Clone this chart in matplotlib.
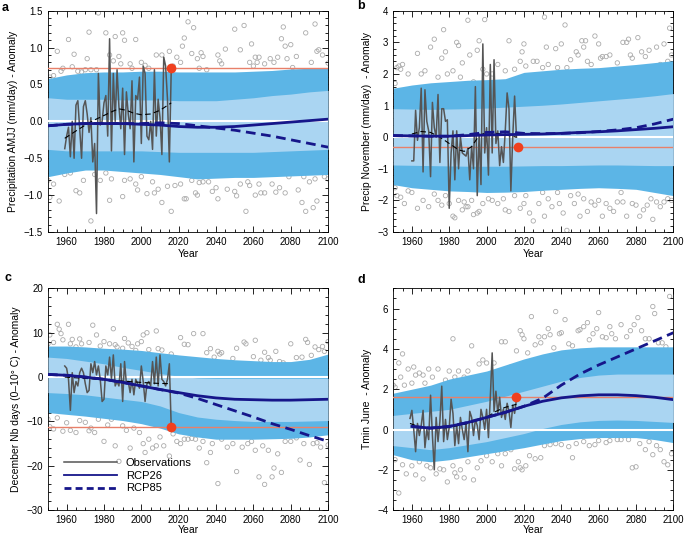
import matplotlib
matplotlib.use("Agg")
import matplotlib.pyplot as plt
from matplotlib.ticker import MultipleLocator

plt.rcParams['font.family'] = ['Liberation Sans', 'DejaVu Sans']
plt.rcParams['font.size'] = 7

DARK = '#5cb5e6'
LIGHT = '#aad5f2'
NAVY = '#16168a'
OBS = '#555555'
RED = '#f0401e'
REDLINE = '#e8806a'

obs_years = list(range(1959, 2017))

# ---------------- panel a : Precipitation AMJJ
a_obs = [-0.37, -0.2, -0.08, -0.48, 0.0, -0.5, 0.22, 0.28, -0.1, -0.5, 0.2, 0.28, 0.1, -0.15,
         0.05, -0.55, -0.3, -1.25, 0.65, -0.05, 0.0, 0.25, 0.35, -0.2, 1.12, -0.4, 0.65, 0.0,
         0.7, 0.2, -0.1, 0.45, -0.45, 0.4, 0.1, -0.1, 0.55, -0.55, 0.35, 0.3, 0.6, -0.3, 0.75,
         0.65, -0.2, -0.25, 0.0, -0.38, 0.7, -0.2, 0.3, 0.05, -0.45, 0.87, 0.75, 0.3, -0.55, 0.7]
a_fit_yr = [1959, 1965, 1970, 1975, 1980, 1985, 1988, 1992, 1996, 2000, 2005, 2010, 2016]
a_fit = [-0.23, -0.13, -0.05, 0.02, 0.08, 0.14, 0.17, 0.15, 0.11, 0.09, 0.1, 0.15, 0.25]
band_yr = [1950, 1960, 1970, 1980, 1990, 2000, 2010, 2020, 2030, 2040, 2050, 2060, 2070, 2080, 2090, 2100]
a_out_hi = [0.58, 0.63, 0.66, 0.67, 0.67, 0.68, 0.68, 0.67, 0.67, 0.67, 0.67, 0.68, 0.69, 0.71, 0.72, 0.72]
a_in_hi = [0.32, 0.30, 0.30, 0.30, 0.29, 0.29, 0.29, 0.28, 0.28, 0.28, 0.30, 0.32, 0.35, 0.37, 0.40, 0.42]
a_in_lo = [-0.38, -0.40, -0.40, -0.40, -0.40, -0.40, -0.41, -0.42, -0.42, -0.42, -0.42, -0.42, -0.41, -0.40, -0.39, -0.38]
a_out_lo = [-0.75, -0.70, -0.66, -0.66, -0.68, -0.70, -0.72, -0.75, -0.78, -0.77, -0.76, -0.76, -0.75, -0.74, -0.73, -0.72]
a_rcp26 = [-0.06, -0.04, -0.03, -0.03, -0.03, -0.04, -0.05, -0.07, -0.08, -0.08, -0.07, -0.05, -0.03, -0.01, 0.01, 0.03]
a_rcp85 = [-0.06, -0.04, -0.03, -0.03, -0.03, -0.03, -0.02, -0.03, -0.06, -0.09, -0.12, -0.16, -0.2, -0.25, -0.3, -0.35]
a_last = 0.73
a_sc_yr = [1951, 1953, 1955, 1957, 1958, 1961, 1963, 1964, 1966, 1968, 1970, 1971, 1972, 1973, 1976,
           1977, 1981, 1983, 1985, 1986, 1988, 1989, 1990, 1991, 1994, 1995, 1997, 2000, 2002, 2004,
           2008, 2011, 2015, 2017, 2019, 2021, 2022, 2023, 2025, 2027, 2028, 2030, 2031, 2032, 2033,
           2035, 2041, 2042, 2043, 2045, 2050, 2053, 2055, 2058, 2059, 2060, 2061, 2062, 2063, 2066,
           2069, 2071, 2073, 2075, 2076, 2077, 2078, 2080, 2081, 2083, 2088, 2091, 2093, 2094, 2095,
           2097, 2100,
           1950, 1951, 1953, 1956, 1959, 1962, 1965, 1967, 1969, 1973, 1975, 1978, 1981, 1983, 1984,
           1990, 1991, 1994, 1997, 1998, 2000, 2003, 2006, 2007, 2009, 2011, 2014, 2016, 2018, 2021,
           2023, 2024, 2027, 2029, 2030, 2031, 2033, 2036, 2038, 2040, 2041, 2046, 2050, 2051, 2053,
           2056, 2057, 2058, 2061, 2063, 2064, 2066, 2070, 2072, 2074, 2077, 2079, 2084, 2086, 2087,
           2088, 2090, 2092, 2093, 2094, 2098, 2100]
a_sc = [0.6, 0.62, 0.95, 0.68, 0.72, 1.11, 0.74, 0.91, 0.68, 0.67, 0.7, 0.85, 1.21, 0.7, 0.7,
        1.47, 1.2, 0.9, 0.82, 1.15, 0.88, 0.78, 1.2, 1.1, 0.78, 0.72, 1.11, 0.8, 0.76, 0.72,
        0.9, 0.9, 0.95, 0.75, 0.87, 0.8, 1.02, 1.13, 1.35, 0.92, 1.27, 0.85, 0.72, 0.93, 0.88,
        0.7, 0.9, 0.82, 0.78, 0.98, 1.25, 0.97, 1.3, 0.8, 1.05, 0.75, 0.87, 0.8, 0.87, 0.78,
        0.85, 0.8, 0.87, 1.12, 1.28, 1.02, 0.85, 1.04, 0.73, 0.88, 1.2, 0.8, 1.32, 0.95, 0.97,
        0.9, 0.79,
        -0.8, -1.03, -0.85, -1.08, -0.72, -0.7, -0.94, -0.97, -0.8, -1.35, -0.72, -0.8, -0.7, -1.07, -0.78,
        -1.02, -0.8, -0.78, -0.85, -0.93, -0.75, -0.98, -0.82, -0.97, -0.92, -1.1, -0.88, -1.22, -0.87, -0.85,
        -1.05, -1.05, -0.8, -0.97, -1.0, -0.83, -0.82, -0.82, -0.95, -0.9, -1.05, -0.92, -0.95, -1.01, -0.85,
        -1.22, -0.82, -0.87, -1.0, -0.85, -0.97, -0.97, -0.85, -0.96, -0.9, -0.97, -0.75, -0.93, -1.1, -0.75,
        -1.22, -0.82, -1.17, -0.78, -1.08, -0.75, -0.78]

# ---------------- panel b : Precip November
b_obs = [-0.75, -0.75, 0.85, -0.1, 0.3, 1.55, -1.1, 1.5, 0.5, 0.2, -1.25, 1.1, 0.3, 0.0, 1.35,
         -0.8, 0.9, 0.9, 0.5, 0.55, -2.25, -0.5, 0.2, -1.35, 0.2, -1.0, 0.0, -0.5, -0.55, -0.6,
         -0.35, -1.35, -0.3, -1.0, 1.6, -1.85, 0.1, -1.5, 2.95, -0.5, 0.3, -1.2, 2.3, -0.5, 2.45,
         -0.2, 0.2, -0.9, -0.3, -0.8, 0.2, 1.4, 0.9, -1.7, 0.0, 1.3, 0.0]
b_obs_years = list(range(1960, 2017))
b_fit_yr = [1960, 1965, 1970, 1975, 1980, 1985, 1988, 1992, 1996, 2000, 2008, 2016]
b_fit = [0.1, 0.18, 0.15, 0.0, -0.2, -0.4, -0.45, -0.3, 0.05, 0.15, 0.1, 0.0]
b_out_hi = [1.55, 1.65, 1.72, 1.76, 1.8, 1.82, 1.85, 2.05, 2.1, 2.15, 2.18, 2.2, 2.25, 2.3, 2.36, 2.42]
b_in_hi = [0.9, 0.89, 0.88, 0.89, 0.9, 0.92, 0.95, 0.98, 1.01, 1.05, 1.1, 1.15, 1.2, 1.25, 1.31, 1.38]
b_in_lo = [-0.88, -0.89, -0.9, -0.91, -0.92, -0.92, -0.92, -0.91, -0.9, -0.9, -0.89, -0.88, -0.88, -0.89, -0.9, -0.9]
b_out_lo = [-1.5, -1.6, -1.65, -1.7, -1.72, -1.75, -1.74, -1.72, -1.68, -1.65, -1.62, -1.6, -1.62, -1.65, -1.75, -1.85]
b_rcp26 = [0.05, 0.04, 0.03, 0.03, 0.05, 0.07, 0.08, 0.09, 0.1, 0.12, 0.15, 0.17, 0.2, 0.24, 0.28, 0.33]
b_rcp85 = [0.05, 0.04, 0.03, 0.03, 0.08, 0.15, 0.17, 0.12, 0.11, 0.12, 0.14, 0.18, 0.23, 0.3, 0.42, 0.57]
b_last = -0.3
b_sc_yr = [1951, 1952, 1953, 1954, 1955, 1958, 1963, 1965, 1967, 1970, 1972, 1974, 1976, 1977, 1978,
           1979, 1982, 1984, 1985, 1986, 1987, 1990, 1991, 1993, 1995, 1996, 1998, 1999, 2000, 2003,
           2006, 2010, 2012, 2015, 2018, 2019, 2020, 2021, 2025, 2027, 2030, 2031, 2032, 2033, 2037,
           2038, 2040, 2042, 2043, 2045, 2048, 2049, 2051, 2052, 2053, 2054, 2056, 2058, 2060, 2061,
           2062, 2064, 2066, 2070, 2073, 2075, 2076, 2077, 2078, 2081, 2083, 2085, 2087, 2091, 2093,
           2095, 2097, 2098, 2099,
           1951, 1952, 1954, 1956, 1958, 1960, 1963, 1966, 1969, 1972, 1974, 1976, 1978, 1980, 1982,
           1983, 1985, 1987, 1988, 1989, 1990, 1992, 1993, 1995, 1996, 1998, 2001, 2003, 2006, 2009,
           2010, 2012, 2015, 2018, 2020, 2021, 2023, 2025, 2028, 2030, 2031, 2033, 2035, 2038, 2039,
           2041, 2043, 2045, 2047, 2049, 2050, 2052, 2054, 2056, 2058, 2060, 2062, 2064, 2066, 2068,
           2070, 2072, 2073, 2075, 2078, 2080, 2082, 2084, 2086, 2088, 2089, 2091, 2093, 2095, 2097,
           2099]
b_sc = [1.7, 2.2, 2.25, 2.15, 2.3, 2.0, 2.65, 2.0, 2.1, 2.85, 3.1, 1.9, 2.5, 3.4, 2.7,
        2.0, 2.1, 3.0, 2.9, 1.9, 2.35, 3.7, 2.6, 1.75, 2.75, 3.05, 2.15, 3.72, 2.0, 2.0,
        2.3, 2.1, 3.05, 2.15, 2.4, 2.7, 2.95, 2.25, 2.4, 2.4, 2.2, 3.8, 2.85, 2.3, 2.8,
        2.2, 2.95, 3.55, 2.2, 2.45, 2.7, 2.6, 3.05, 2.85, 3.05, 2.4, 2.3, 3.2, 2.95, 2.5,
        2.55, 2.55, 2.6, 2.35, 3.0, 3.0, 3.1, 2.6, 2.5, 3.15, 2.7, 2.55, 2.75, 2.85, 2.3,
        2.95, 2.4, 3.45, 2.6,
        -1.6, -1.85, -1.9, -2.1, -1.7, -1.75, -2.25, -2.0, -2.2, -1.8, -2.0, -2.15, -1.85, -2.1, -2.5,
        -2.55, -2.0, -2.3, -2.05, -2.2, -2.2, -2.0, -2.45, -2.4, -2.35, -2.1, -1.95, -2.0, -2.1, -1.95,
        -2.3, -2.35, -1.85, -2.25, -2.1, -1.85, -2.4, -2.65, -2.1, -1.75, -2.5, -1.95, -2.2, -1.75, -2.1,
        -2.4, -2.95, -1.85, -2.1, -1.8, -2.5, -1.95, -2.35, -2.05, -2.15, -2.0, -2.5, -2.1, -2.25, -2.35,
        -2.05, -1.75, -2.05, -2.5, -2.1, -2.15, -2.5, -2.3, -2.15, -1.95, -2.6, -2.05, -2.2, -2.05, -1.95,
        -2.0]

# ---------------- panel c : December Nb days (0-10 C)
c_obs = [2.5, 2.0, -0.5, -7.5, 1.0, -3.5, -1.0, -2.0, 1.0, 2.0, 1.0, -1.5, -3.5, -3.0, 3.0,
         1.0, 3.5, 0.5, 2.5, -0.5, -5.5, -5.0, 2.5, 0.5, 4.5, -0.5, 5.0, -2.0, -1.0, -2.0,
         3.0, -5.5, 3.5, -1.5, -1.0, -3.5, -0.5, -4.0, -0.5, -1.5, -2.5, 2.5, -1.0, -5.5, -1.5,
         -1.0, -2.0, 3.5, -1.5, 4.5, -2.0, 5.0, -0.5, -1.0, -2.0, -0.5, 3.0, -11.3]
c_fit_yr = [1959, 1970, 1980, 1990, 2000, 2008, 2016]
c_fit = [0.0, -0.3, -0.6, -0.9, -1.2, -1.4, -1.5]
c_out_hi = [7.0, 7.0, 6.8, 6.5, 6.3, 6.0, 5.5, 5.0, 4.6, 4.2, 3.9, 3.7, 3.5, 3.5, 4.0, 5.2]
c_in_hi = [4.5, 4.2, 3.6, 3.0, 2.2, 1.5, 0.8, 0.2, -0.2, -0.3, -0.3, -0.3, -0.3, -0.3, -0.3, -0.3]
c_in_lo = [-3.5, -3.7, -4.0, -4.5, -5.0, -5.5, -6.5, -8.0, -9.0, -9.5, -9.8, -10.0, -10.0, -10.0, -9.9, -9.8]
c_out_lo = [-8.0, -8.4, -8.8, -9.3, -9.8, -10.5, -11.5, -12.8, -13.5, -14.0, -14.0, -14.0, -13.9, -13.8, -13.5, -13.0]
c_rcp26 = [0.6, 0.4, 0.0, -0.5, -1.2, -2.0, -2.8, -3.5, -4.2, -4.7, -5.0, -5.1, -5.2, -5.2, -5.1, -5.0]
c_rcp85 = [0.6, 0.4, 0.0, -0.5, -1.2, -2.0, -2.8, -3.6, -4.8, -6.2, -7.6, -9.0, -10.5, -11.8, -13.2, -14.5]
c_last = -11.3
c_sc_yr = [1950, 1951, 1953, 1955, 1956, 1957, 1958, 1961, 1962, 1963, 1965, 1967, 1968, 1972, 1974,
           1976, 1978, 1980, 1983, 1985, 1986, 1987, 1990, 1991, 1993, 1995, 1997, 1998, 2000, 2001,
           2003, 2004, 2008, 2009, 2011, 2016, 2021, 2023, 2025, 2028, 2033, 2035, 2037, 2039, 2041,
           2042, 2043, 2049, 2051, 2055, 2056, 2060, 2061, 2064, 2066, 2068, 2069, 2072, 2074, 2076,
           2080, 2083, 2086, 2088, 2089, 2091, 2093, 2095, 2097, 2098, 2100,
           1950, 1951, 1953, 1955, 1958, 1960, 1962, 1965, 1967, 1970, 1972, 1973, 1975, 1977, 1980,
           1982, 1984, 1986, 1988, 1990, 1992, 1994, 1996, 1999, 2001, 2002, 2004, 2006, 2008, 2010,
           2012, 2015, 2017, 2019, 2021, 2023, 2025, 2027, 2029, 2031, 2033, 2035, 2037, 2038, 2041,
           2043, 2046, 2049, 2051, 2054, 2057, 2059, 2061, 2063, 2065, 2066, 2068, 2070, 2071, 2073,
           2075, 2077, 2080, 2083, 2085, 2087, 2090, 2092, 2094, 2096, 2098, 2100]
c_sc = [7.5, 9.5, 7.8, 11.9, 10.8, 9.8, 8.4, 11.9, 7.5, 8.5, 6.8, 8.6, 7.5, 7.8, 11.7,
        9.5, 7.0, 8.0, 7.5, 10.9, 7.3, 6.8, 6.5, 8.7, 7.7, 6.9, 6.0, 7.5, 8.0, 9.5,
        10.0, 6.2, 10.4, 6.4, 6.1, 5.2, 8.9, 7.4, 7.3, 9.8, 9.8, 5.5, 6.4, 4.5, 5.8,
        5.2, 5.5, 4.2, 6.5, 7.9, 7.5, 4.6, 8.3, 3.8, 5.6, 4.4, 3.8, 5.8, 3.5, 3.2,
        7.5, 4.4, 4.5, 8.5, 7.8, 4.9, 6.8, 6.2, 6.9, 5.8, 8.0,
        -9.5, -11.2, -11.7, -9.2, -12.2, -10.3, -12.0, -12.5, -9.8, -10.2, -12.1, -11.5, -12.5, -9.5, -14.5,
        -10.8, -9.5, -15.5, -19.0, -11.0, -12.0, -16.0, -11.5, -12.5, -15.0, -17.0, -14.0, -16.0, -15.5, -13.5,
        -15.5, -17.8, -12.8, -14.5, -15.0, -14.0, -14.0, -13.8, -14.0, -16.0, -14.5, -19.3, -17.0, -15.0, -24.0,
        -14.0, -15.8, -15.0, -21.3, -15.8, -15.0, -14.5, -16.5, -22.5, -15.5, -24.2, -16.5, -22.5, -20.5, -17.3,
        -21.5, -14.5, -14.5, -13.7, -18.7, -15.0, -19.7, -15.0, -14.8, -15.8, -23.8, -15.3]

# ---------------- panel d : Tmin June
d_obs = [0.55, 0.95, 0.0, -1.1, 0.3, -0.3, 0.2, 0.95, -0.9, 0.0, -0.5, 1.7, -0.3, -2.0, 0.6,
         -0.6, 0.4, 2.15, -0.6, 0.5, -0.5, 0.1, 1.5, 0.8, -0.8, 0.2, -0.7, 0.6, 0.0, -0.5,
         0.3, -1.1, 0.9, 0.6, -0.3, 0.5, 0.2, -0.5, 1.0, 0.6, 0.0, 1.0, -0.4, 1.6, 3.8,
         0.9, 1.9, 0.8, 1.6, 0.6, 1.0, 0.5, 1.3, 0.9, 0.1, 1.2, 0.8, 1.5]
d_fit_yr = [1959, 1965, 1970, 1980, 1990, 2000, 2005, 2010, 2016]
d_fit = [0.3, 0.1, 0.05, 0.1, 0.3, 0.6, 0.9, 1.1, 1.25]
d_out_hi = [1.8, 2.0, 2.2, 2.5, 2.7, 2.9, 3.2, 3.5, 3.75, 3.95, 4.05, 4.1, 4.1, 4.1, 4.1, 4.1]
d_in_hi = [0.7, 0.8, 0.9, 1.0, 1.2, 1.4, 1.65, 1.9, 2.15, 2.4, 2.58, 2.7, 2.75, 2.75, 2.75, 2.75]
d_in_lo = [-0.8, -0.9, -1.0, -0.9, -0.75, -0.6, -0.4, -0.2, 0.05, 0.25, 0.38, 0.45, 0.47, 0.45, 0.4, 0.35]
d_out_lo = [-1.25, -1.5, -1.6, -1.5, -1.35, -1.2, -1.05, -0.9, -0.72, -0.55, -0.45, -0.4, -0.4, -0.4, -0.5, -0.65]
d_rcp_yr = band_yr[1:]
d_rcp26 = [0.15, 0.07, 0.15, 0.35, 0.6, 0.85, 1.15, 1.4, 1.57, 1.67, 1.72, 1.72, 1.68, 1.6, 1.48]
d_rcp85 = [0.15, 0.07, 0.15, 0.35, 0.6, 0.85, 1.15, 1.55, 2.2, 2.75, 3.2, 3.6, 4.0, 4.4, 4.8]
d_last = 1.6
d_sc_yr = [1950, 1951, 1953, 1954, 1955, 1956, 1958, 1960, 1961, 1962, 1964, 1966, 1967, 1969, 1971,
           1974, 1978, 1980, 1982, 1983, 1985, 1988, 1990, 1992, 1994, 1996, 1998, 2000, 2004, 2008,
           2010, 2013, 2016, 2018, 2019, 2020, 2022, 2024, 2026, 2028, 2029, 2031, 2033, 2034, 2036,
           2037, 2039, 2040, 2042, 2044, 2046, 2049, 2050, 2052, 2054, 2055, 2057, 2059, 2060, 2062,
           2064, 2066, 2067, 2069, 2072, 2075, 2077, 2079, 2081, 2083, 2085, 2087, 2089, 2090, 2092,
           2094, 2096, 2098,
           1951, 1953, 1955, 1957, 1960, 1962, 1964, 1966, 1968, 1970, 1973, 1975, 1977, 1979, 1982,
           1983, 1984, 1986, 1988, 1990, 1993, 1995, 1997, 2000, 2003, 2006, 2008, 2010, 2013, 2015,
           2017, 2018, 2019, 2021, 2023, 2026, 2029, 2031, 2034, 2037, 2040, 2044, 2046, 2048, 2052,
           2055, 2058, 2060, 2064, 2066, 2070, 2072, 2076, 2078, 2080, 2082, 2085, 2087, 2089, 2091,
           2093, 2095, 2097, 2099]
d_sc = [2.2, 2.1, 3.3, 2.6, 3.75, 2.2, 3.0, 2.3, 3.1, 2.7, 2.8, 2.7, 2.3, 3.0, 2.6,
        3.0, 2.45, 2.9, 4.5, 2.6, 2.9, 2.6, 2.9, 4.15, 2.4, 3.25, 3.45, 3.3, 3.3, 4.35,
        4.35, 3.1, 3.9, 4.9, 4.7, 4.5, 3.8, 5.6, 4.2, 4.6, 4.3, 4.6, 5.0, 4.7, 4.05,
        5.85, 4.75, 4.8, 5.45, 4.25, 4.15, 4.9, 4.95, 5.1, 5.3, 4.45, 4.75, 5.0, 5.8, 4.6,
        4.55, 5.1, 4.75, 4.5, 5.2, 4.6, 4.9, 5.2, 5.55, 4.9, 4.5, 4.5, 6.1, 5.75, 4.3,
        4.3, 4.1, 6.6,
        -1.5, -3.15, -1.75, -2.2, -1.8, -2.25, -1.6, -2.45, -1.8, -1.9, -2.2, -1.95, -2.0, -2.6, -1.8,
        -2.15, -2.35, -2.0, -2.4, -1.6, -2.5, -1.9, -1.55, -1.3, -1.6, -1.2, -1.8, -1.2, -1.0, -1.95,
        -1.6, -1.9, -2.0, -1.8, -1.3, -1.45, -1.4, -0.8, -0.75, -0.7, -0.75, -0.85, -1.4, -0.7, -0.6,
        -0.8, -0.75, -0.55, -0.65, -0.55, -0.5, -0.5, -0.5, -1.9, -1.85, -0.7, -1.0, -0.6, -1.25, -0.8,
        -1.0, -1.6, -1.75, -1.2]


def draw_panel(ax, sc_yr, sc, out_lo, out_hi, in_lo, in_hi, oyrs, obs, fit_yr, fit,
               ryr, r26, r85, last, last_yr, ylim, ymaj, ymin, ylabel):
    ax.scatter(sc_yr, sc, s=10, facecolors='none', edgecolors='#ababab', linewidths=0.6, zorder=1)
    ax.fill_between(band_yr, out_lo, out_hi, color=DARK, lw=0, zorder=2)
    ax.fill_between(band_yr, in_lo, in_hi, color=LIGHT, lw=0, zorder=3)
    ax.axhline(0, color='white', lw=1.5, zorder=4)
    ax.axhline(last, color=REDLINE, lw=1.0, zorder=5)
    ax.plot(oyrs, obs, color=OBS, lw=1.1, zorder=6)
    ax.plot(fit_yr, fit, color='black', lw=0.8, ls=(0, (5, 3)), zorder=7)
    ax.plot(ryr, r85, color=NAVY, lw=2.0, ls=(0, (3.5, 2)), zorder=8)
    ax.plot(ryr, r26, color=NAVY, lw=2.0, zorder=9)
    ax.plot([last_yr], [last], 'o', color=RED, ms=7, mec='none', zorder=10)
    ax.set_xlim(1950, 2100)
    ax.set_ylim(*ylim)
    ax.xaxis.set_major_locator(MultipleLocator(20))
    ax.xaxis.set_minor_locator(MultipleLocator(5))
    ax.yaxis.set_major_locator(MultipleLocator(ymaj))
    ax.yaxis.set_minor_locator(MultipleLocator(ymin))
    ax.tick_params(which='both', direction='in', top=True, right=True, labelsize=7, width=0.6)
    ax.tick_params(which='major', length=4)
    ax.tick_params(which='minor', length=2)
    for s in ax.spines.values():
        s.set_linewidth(0.6)
    ax.set_xlabel('Year', fontsize=7.5, labelpad=1.5)
    ax.set_ylabel(ylabel, fontsize=7.5)


fig = plt.figure(figsize=(6.85, 5.37), dpi=100)
ax_a = fig.add_axes([0.070, 0.568, 0.409, 0.412])
ax_b = fig.add_axes([0.574, 0.568, 0.409, 0.412])
ax_c = fig.add_axes([0.070, 0.050, 0.409, 0.413])
ax_d = fig.add_axes([0.574, 0.050, 0.409, 0.413])

draw_panel(ax_a, a_sc_yr, a_sc, a_out_lo, a_out_hi, a_in_lo, a_in_hi, obs_years, a_obs,
           a_fit_yr, a_fit, band_yr, a_rcp26, a_rcp85, a_last, 2016, (-1.5, 1.5), 0.5, 0.1,
           'Precipitation AMJJ (mm/day) - Anomaly')
draw_panel(ax_b, b_sc_yr, b_sc, b_out_lo, b_out_hi, b_in_lo, b_in_hi, b_obs_years, b_obs,
           b_fit_yr, b_fit, band_yr, b_rcp26, b_rcp85, b_last, 2017, (-3, 4), 1, 0.2,
           'Precip November (mm/day)  - Anomaly')
draw_panel(ax_c, c_sc_yr, c_sc, c_out_lo, c_out_hi, c_in_lo, c_in_hi, obs_years, c_obs,
           c_fit_yr, c_fit, band_yr, c_rcp26, c_rcp85, c_last, 2016, (-30, 20), 10, 2,
           'December Nb days (0\u201310\u00b0 C) - Anomaly')
draw_panel(ax_d, d_sc_yr, d_sc, d_out_lo, d_out_hi, d_in_lo, d_in_hi, obs_years, d_obs,
           d_fit_yr, d_fit, d_rcp_yr, d_rcp26, d_rcp85, d_last, 2016, (-4, 7), 2, 0.5,
           'Tmin June  - Anomaly')
ax_c.xaxis.labelpad = 0

# legend in panel c
h_obs, = ax_c.plot([], [], color=OBS, lw=1.1, label='Observations')
h_26, = ax_c.plot([], [], color=NAVY, lw=1.3, label='RCP26')
h_85, = ax_c.plot([], [], color=NAVY, lw=2.0, ls=(0, (2.5, 1.5)), label='RCP85')
ax_c.legend(handles=[h_obs, h_26, h_85], loc='lower left', bbox_to_anchor=(0.02, 0.03),
            frameon=False, fontsize=8, handlelength=4.8, labelspacing=0.25, handletextpad=0.8)
ax_d.xaxis.labelpad = 0

for lab, x, y in [('a', 0.003, 0.985), ('b', 0.522, 0.988), ('c', 0.007, 0.482), ('d', 0.522, 0.478)]:
    fig.text(x, y, lab, fontsize=9, fontweight='bold', va='center')

fig.savefig('out.png', dpi=100)
